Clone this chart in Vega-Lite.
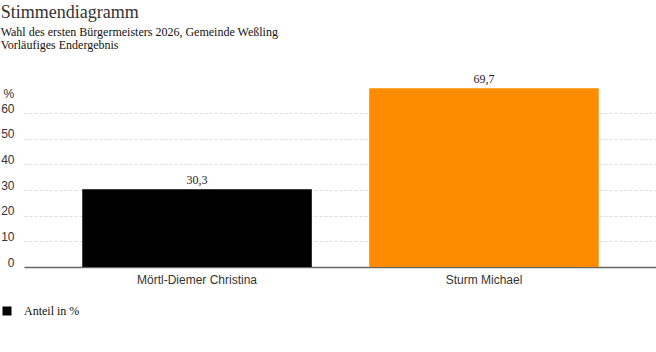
{
  "$schema": "https://vega.github.io/schema/vega-lite/v6.json",
  "width": 633,
  "height": 200,
  "padding": {"top": 4, "left": 0, "right": 0, "bottom": 0},
  "background": "white",
  "config": {
    "view": {"stroke": null},
    "locale": {"number": {"decimal": ",", "thousands": ".", "grouping": [3], "currency": ["", " €"]}}
  },
  "title": {
    "text": "Stimmendiagramm",
    "subtitle": ["Wahl des ersten Bürgermeisters 2026, Gemeinde Weßling", "Vorläufiges Endergebnis"],
    "anchor": "start",
    "frame": "bounds",
    "font": "Liberation Serif",
    "fontSize": 18,
    "fontWeight": "normal",
    "color": "#333333",
    "subtitleFont": "Liberation Serif",
    "subtitleFontSize": 12,
    "subtitleColor": "#111111",
    "subtitleLineHeight": 13,
    "subtitlePadding": 5,
    "offset": 16
  },
  "data": {
    "values": [
      {"Kandidat": "Mörtl-Diemer Christina", "Anteil": 30.3, "Serie": "Anteil in %"},
      {"Kandidat": "Sturm Michael", "Anteil": 69.7, "Serie": "Anteil in %"}
    ]
  },
  "encoding": {
    "x": {
      "field": "Kandidat",
      "type": "nominal",
      "sort": null,
      "scale": {"paddingInner": 0.2, "paddingOuter": 0.203},
      "axis": {
        "title": null,
        "labelAngle": 0,
        "ticks": false,
        "domainColor": "#666666",
        "domainWidth": 1.5,
        "labelFont": "Liberation Sans",
        "labelFontSize": 12,
        "labelColor": "#333333",
        "labelPadding": 7
      }
    },
    "y": {
      "field": "Anteil",
      "type": "quantitative",
      "scale": {"domain": [0, 78], "nice": false},
      "axis": {
        "values": [0, 10, 20, 30, 40, 50, 60],
        "title": "%",
        "titleAngle": 0,
        "titleAlign": "left",
        "titleBaseline": "middle",
        "titleX": -21,
        "titleY": 26,
        "titleFont": "Liberation Sans",
        "titleFontSize": 12,
        "titleFontWeight": "normal",
        "titleColor": "#333333",
        "ticks": false,
        "domain": false,
        "labelFont": "Liberation Sans",
        "labelFontSize": 12,
        "labelColor": "#333333",
        "labelPadding": 10,
        "labelOffset": -5,
        "minExtent": 23,
        "maxExtent": 23,
        "gridColor": "#dddddd",
        "gridDash": [3, 2],
        "gridWidth": 1
      }
    }
  },
  "layer": [
    {
      "mark": {"type": "bar", "strokeWidth": 0},
      "encoding": {
        "color": {
          "field": "Kandidat",
          "type": "nominal",
          "scale": {"domain": ["Mörtl-Diemer Christina", "Sturm Michael"], "range": ["#000000", "#ff8c00"]},
          "legend": null
        },
        "stroke": {
          "field": "Serie",
          "type": "nominal",
          "scale": {"range": ["#3a3a3a"]},
          "legend": {
            "title": null,
            "orient": "none",
            "legendX": -23,
            "legendY": 238,
            "symbolType": "square",
            "symbolSize": 81,
            "symbolStrokeWidth": 0,
            "labelFont": "Liberation Serif",
            "labelFontSize": 12,
            "labelColor": "#111111",
            "labelOffset": 11,
            "encode": {"symbols": {"update": {"fill": {"value": "#3a3a3a"}, "strokeWidth": {"value": 0}}}}
          }
        }
      }
    },
    {
      "mark": {"type": "text", "baseline": "alphabetic", "dy": -5, "font": "Liberation Serif", "fontSize": 12, "color": "#222222"},
      "encoding": {
        "text": {"field": "Anteil", "type": "quantitative", "format": ".1f"}
      }
    }
  ]
}
